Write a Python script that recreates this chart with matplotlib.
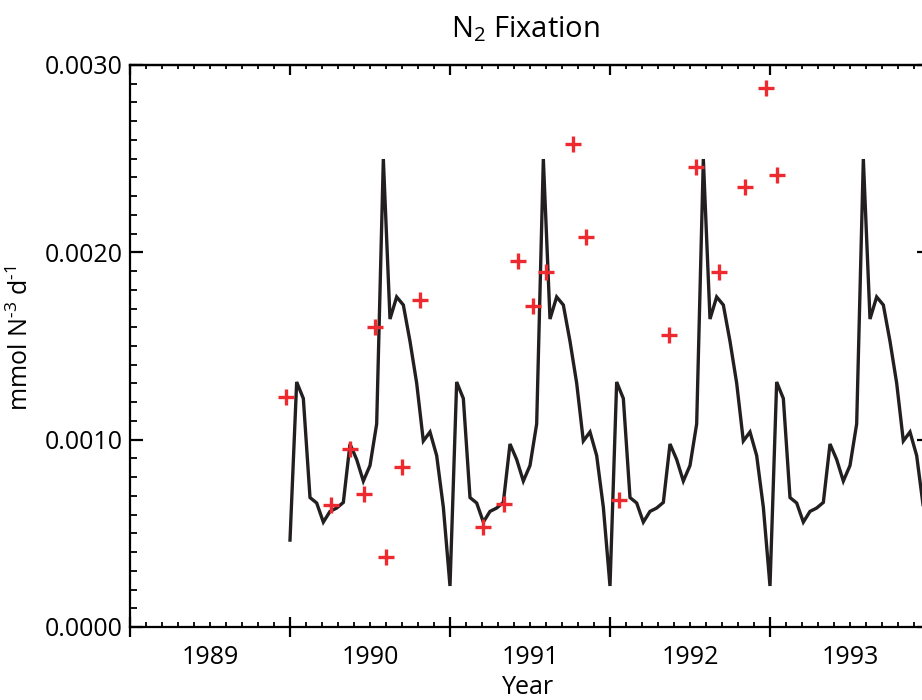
import numpy as np
import matplotlib
matplotlib.use("Agg")
import matplotlib.pyplot as plt
from matplotlib.ticker import FixedLocator, FixedFormatter, MultipleLocator, FormatStrFormatter, NullFormatter

# -----------------------------
# Data
# -----------------------------
# model run: semi-monthly values (24 per year), same seasonal cycle each year
model_years = [1990, 1991, 1992, 1993]
model_cycle = [0.000219, 0.001308, 0.001220, 0.000691, 0.000662, 0.000560,
               0.000617, 0.000635, 0.000665, 0.000977, 0.000894, 0.000779,
               0.000862, 0.001084, 0.002498, 0.001644, 0.001762, 0.001719,
               0.001525, 0.001302, 0.000993, 0.001041, 0.000915, 0.000640]
model_start = 0.000464   # first value of the run (start of 1990)

# observations (decimal year, mmol N m-3 d-1)
obs_time = [1989.973, 1990.254, 1990.375, 1990.463, 1990.531, 1990.600,
            1990.698, 1990.813, 1991.208, 1991.338, 1991.427, 1991.520,
            1991.598, 1991.767, 1991.850, 1992.056, 1992.369, 1992.538,
            1992.683, 1992.844, 1992.973, 1993.046]
obs_value = [0.001228, 0.000651, 0.000950, 0.000710, 0.001600, 0.000375,
             0.000853, 0.001746, 0.000532, 0.000657, 0.001954, 0.001715,
             0.001897, 0.002577, 0.002084, 0.000678, 0.001557, 0.002456,
             0.001893, 0.002350, 0.002877, 0.002415]

year_labels = ["1989", "1990", "1991", "1992", "1993"]

# -----------------------------
# Style
# -----------------------------
plt.rcParams["font.family"] = ["Open Sans", "DejaVu Sans"]
plt.rcParams["mathtext.default"] = "regular"

LINE_COL = "#231f20"
OBS_COL = "#ec2a2f"

fig = plt.figure(figsize=(9.22, 7.0), dpi=100)
# axes runs a little past the right edge of the picture (cropped like the original)
ax = fig.add_axes([130 / 922, 73 / 700, 800 / 922, 562 / 700])

# model line
t = np.concatenate([y + np.arange(len(model_cycle)) / len(model_cycle) for y in model_years])
v = np.tile(model_cycle, len(model_years))
v[0] = model_start
ax.plot(t, v, color=LINE_COL, lw=2.4, solid_joinstyle="miter")

# observations
ax.plot(obs_time, obs_value, linestyle="none", marker="+", ms=12, mew=2.4, color=OBS_COL)

ax.set_xlim(1989, 1994)
ax.set_ylim(0, 0.003)

# x axis: major ticks at year boundaries, labels centred in each year
year_edges = list(range(1989, 1995))
minor_pos = [round(1989 + k / 10, 2) for k in range(51) if k % 10 != 0]
minor_lab = [year_labels[int(p) - 1989] if abs(p - int(p) - 0.5) < 1e-6 else "" for p in minor_pos]
ax.xaxis.set_major_locator(FixedLocator(year_edges))
ax.xaxis.set_major_formatter(NullFormatter())
ax.xaxis.set_minor_locator(FixedLocator(minor_pos))
ax.xaxis.set_minor_formatter(FixedFormatter(minor_lab))
ax.tick_params(axis="x", which="major", direction="inout", length=15, width=1.6,
               top=False, bottom=True)
ax.tick_params(axis="x", which="minor", direction="in", length=3.6, width=1.3,
               top=False, bottom=True, labelsize=18, pad=13)

# top axis: inward ticks only
top = ax.secondary_xaxis("top")
top.xaxis.set_major_locator(FixedLocator(year_edges))
top.xaxis.set_minor_locator(FixedLocator(minor_pos))
top.xaxis.set_major_formatter(NullFormatter())
top.xaxis.set_minor_formatter(NullFormatter())
top.tick_params(which="major", direction="in", length=7.2, width=1.6)
top.tick_params(which="minor", direction="in", length=2.9, width=1.3)
top.spines["top"].set_linewidth(1.6)

# y axis
ax.yaxis.set_major_locator(MultipleLocator(0.001))
ax.yaxis.set_minor_locator(MultipleLocator(0.0001))
ax.yaxis.set_major_formatter(FormatStrFormatter("%.4f"))
ax.tick_params(axis="y", which="major", direction="in", length=9.5, width=1.6,
               left=True, right=True, labelsize=18, pad=5)
ax.tick_params(axis="y", which="minor", direction="in", length=5, width=1.3,
               left=True, right=True)

for s in ax.spines.values():
    s.set_linewidth(1.6)

ax.set_ylabel("mmol N$^{\u20103}$ d$^{\u20101}$", fontsize=18)
ax.yaxis.set_label_coords(-0.12, 0.514)
ax.set_xlabel("Year", fontsize=18)
ax.xaxis.set_label_coords(0.4975, -0.085)

fig.text(525 / 922, 1 - 37 / 700, "N$_2$ Fixation", ha="center", va="baseline", fontsize=21)

fig.savefig("out.png", dpi=100)
